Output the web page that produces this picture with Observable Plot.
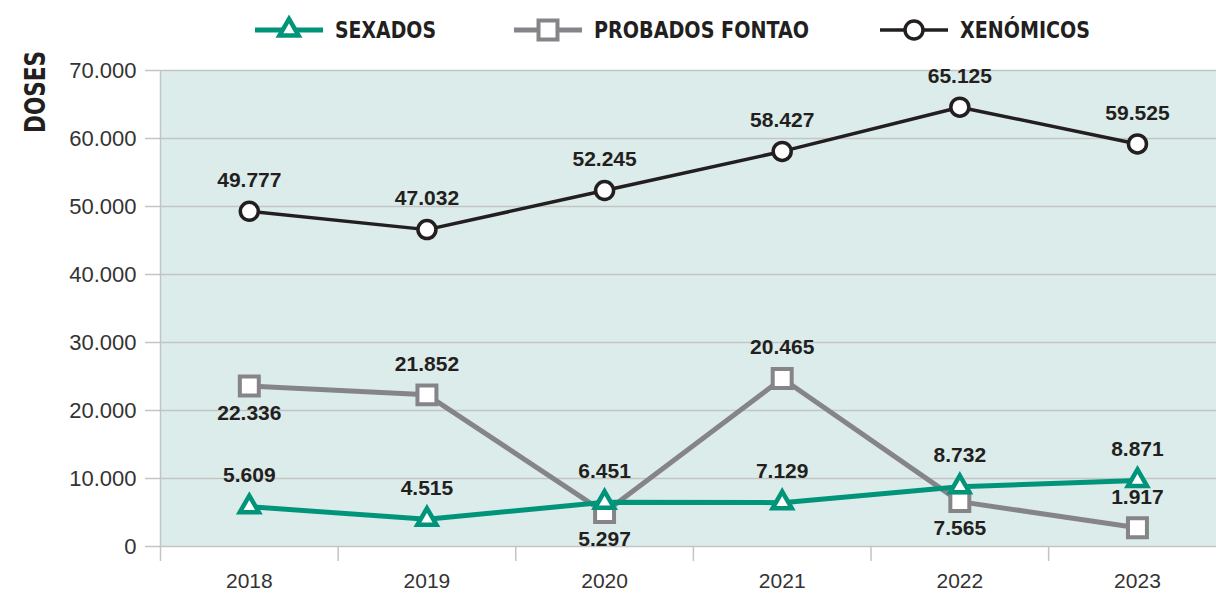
<!DOCTYPE html>
<html>
<head>
<meta charset="utf-8">
<script src="https://cdn.jsdelivr.net/npm/d3@7"></script>
<script src="https://cdn.jsdelivr.net/npm/@observablehq/plot@0.6"></script>
<style>
  html, body { margin: 0; padding: 0; background: #ffffff; }
  #wrap { position: relative; width: 1216px; height: 594px; overflow: hidden; }
  #overlay { position: absolute; left: 0; top: 0; pointer-events: none; }
</style>
</head>
<body>
<div id="wrap"></div>
<script>
// ---- data ----
const years = [2018, 2019, 2020, 2021, 2022, 2023];
const sexados   = [5850, 4000, 6500, 6450, 8800, 9700];
const probados  = [23600, 22300, 5000, 24700, 6600, 2750];
const xenomicos = [49300, 46600, 52350, 58100, 64600, 59200];
const sexLabels  = ["5.609", "4.515", "6.451", "7.129", "8.732", "8.871"];
const probLabels = ["22.336", "21.852", "5.297", "20.465", "7.565", "1.917"];
const xenLabels  = ["49.777", "47.032", "52.245", "58.427", "65.125", "59.525"];
const probPlace  = ["below", "above", "below", "above", "below", "above"];
const yTicks = [0, 10000, 20000, 30000, 40000, 50000, 60000, 70000];
const yTickLabels = ["0", "10.000", "20.000", "30.000", "40.000", "50.000", "60.000", "70.000"];
const yearSeparators = [2017.5, 2018.5, 2019.5, 2020.5, 2021.5, 2022.5];
const seriesNames = ["SEXADOS", "PROBADOS FONTAO", "XENÓMICOS"];

const C_SEX = "#00957a", C_PROB = "#858589", C_XEN = "#231f20";
const TXT = "#231f20", GRID = "#c2c5c5";

const mk = (vals, labels, place) => years.map((yr, i) => ({
  year: yr, value: vals[i], label: labels[i], place: place ? place[i] : "above"
}));
const sexData = mk(sexados, sexLabels);
const probData = mk(probados, probLabels, probPlace);
const xenData = mk(xenomicos, xenLabels);

const labelFont = {fontFamily: "Liberation Sans, Arial, sans-serif", fontWeight: "bold", fontSize: 21, fill: TXT};
function labels(data) {
  return [
    Plot.text(data.filter(d => d.place === "above"), {x: "year", y: "value", text: "label", dy: -31, ...labelFont}),
    Plot.text(data.filter(d => d.place === "below"), {x: "year", y: "value", text: "label", dy: 27, ...labelFont})
  ];
}

const chart = Plot.plot({
  width: 1216,
  height: 594,
  marginTop: 70,
  marginBottom: 48,
  marginLeft: 160,
  marginRight: 0,
  style: {fontFamily: "Liberation Sans, Arial, sans-serif", background: "transparent", overflow: "visible"},
  x: {type: "linear", domain: [2017.5, 2023.445]},
  y: {domain: [0, 70000]},
  marks: [
    Plot.frame({fill: "#dcecea", stroke: null}),
    Plot.gridY(yTicks, {stroke: GRID, strokeOpacity: 1, strokeWidth: 1.5}),
    Plot.ruleX([2017.5], {stroke: GRID, strokeWidth: 1.5}),
    Plot.axisY({ticks: yTicks, tickSize: 15, tickPadding: 9, tickFormat: d => yTickLabels[yTicks.indexOf(d)],
      fontSize: 22, stroke: GRID, strokeWidth: 1.5, fill: "#333333", label: null}),
    Plot.axisX({ticks: yearSeparators, tickSize: 15, tickFormat: () => "", stroke: GRID, strokeWidth: 1.5, label: null}),
    Plot.axisX({ticks: years, tickSize: 0, tickPadding: 27, tickFormat: d => String(d), fontSize: 21, fill: "#333333", label: null}),
    Plot.line(xenData, {x: "year", y: "value", stroke: C_XEN, strokeWidth: 3.5}),
    Plot.dot(xenData, {x: "year", y: "value", r: 9, symbol: "circle", stroke: C_XEN, strokeWidth: 3.5, fill: "white"}),
    Plot.line(probData, {x: "year", y: "value", stroke: C_PROB, strokeWidth: 5}),
    Plot.dot(probData, {x: "year", y: "value", r: 10.7, symbol: "square", stroke: C_PROB, strokeWidth: 4, fill: "white"}),
    Plot.line(sexData, {x: "year", y: "value", stroke: C_SEX, strokeWidth: 5}),
    Plot.dot(sexData, {x: "year", y: "value", r: 7.1, symbol: "triangle", stroke: C_SEX, strokeWidth: 4.5, fill: "white"}),
    ...labels(xenData),
    ...labels(probData),
    ...labels(sexData)
  ]
});
document.getElementById("wrap").appendChild(chart);

// ---- legend + axis title overlay ----
const svg = d3.select("#wrap").append("svg")
  .attr("id", "overlay").attr("width", 1216).attr("height", 150);
const legendFont = "'Liberation Sans Narrow', 'DejaVu Sans Condensed', sans-serif";
const items = [
  {name: seriesNames[0], color: C_SEX, sym: d3.symbolTriangle, r: 7.1, sw: 4.5, lw: 5, x0: 255, tl: 101},
  {name: seriesNames[1], color: C_PROB, sym: d3.symbolSquare, r: 10.7, sw: 4, lw: 5, x0: 514, tl: 215},
  {name: seriesNames[2], color: C_XEN, sym: d3.symbolCircle, r: 9, sw: 3.5, lw: 3.5, x0: 880, tl: 130}
];
const ly = 30;
items.forEach(it => {
  const g = svg.append("g");
  g.append("line").attr("x1", it.x0).attr("x2", it.x0 + 68).attr("y1", ly).attr("y2", ly)
    .attr("stroke", it.color).attr("stroke-width", it.lw);
  g.append("path").attr("d", d3.symbol(it.sym, Math.PI * it.r * it.r)())
    .attr("transform", `translate(${it.x0 + 34},${ly})`)
    .attr("fill", "white").attr("stroke", it.color).attr("stroke-width", it.sw);
  g.append("text").attr("x", it.x0 + 80).attr("y", ly).attr("dy", "0.36em")
    .attr("font-family", legendFont).attr("font-weight", "bold").attr("font-size", 23)
    .attr("textLength", it.tl).attr("lengthAdjust", "spacingAndGlyphs")
    .attr("fill", TXT).text(it.name);
});
svg.append("text").attr("transform", "translate(35,92) rotate(-90)")
  .attr("text-anchor", "middle").attr("dy", "0.36em")
  .attr("font-family", legendFont).attr("font-weight", "bold").attr("font-size", 28)
  .attr("textLength", 82).attr("lengthAdjust", "spacingAndGlyphs")
  .attr("fill", TXT).text("DOSES");
</script>
</body>
</html>
